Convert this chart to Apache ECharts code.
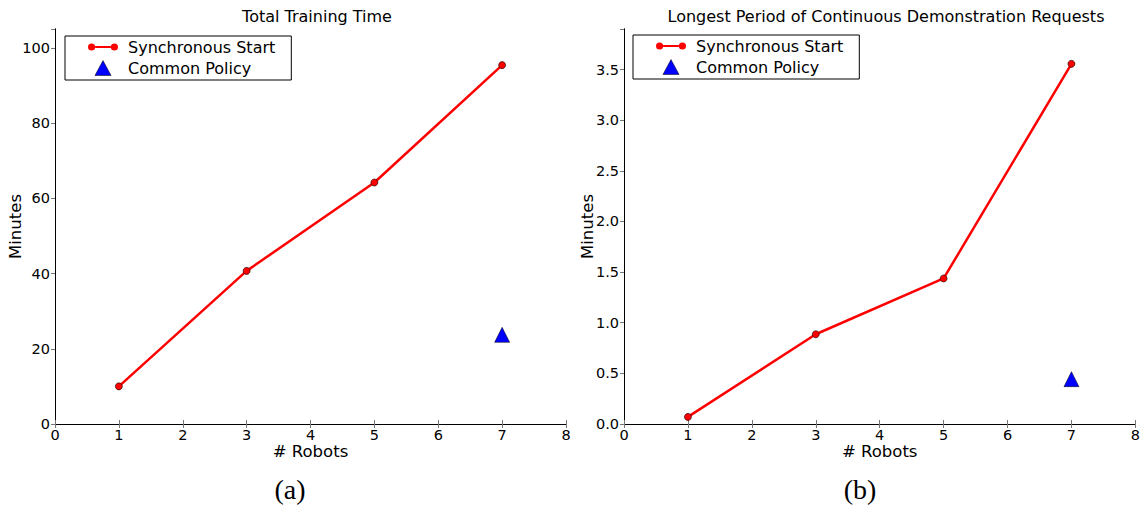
<!DOCTYPE html>
<html>
<head>
<meta charset="utf-8">
<script src="https://cdn.jsdelivr.net/npm/echarts@6/dist/echarts.min.js"></script>
<style>
  html, body { margin: 0; padding: 0; background: #fff; }
  #chart { width: 1143px; height: 506px; }
</style>
</head>
<body>
<div id="chart"></div>
<script>
// Number of robots used in each run
const robots = [1, 3, 5, 7];
// Total training time (minutes)
const trainingSync = [10.0, 40.7, 64.2, 95.4];
const trainingCommonRobots = [7];
const trainingCommon = [23.7];
// Longest period of continuous demonstration requests (minutes)
const requestsSync = [0.07, 0.886, 1.437, 3.556];
const requestsCommonRobots = [7];
const requestsCommon = [0.443];
// Axis tick settings
const xTicks = { min: 0, max: 8, interval: 1 };
const yTrainingTicks = { min: 0, max: 105, interval: 20 };
const yRequestsTicks = { min: 0, max: 3.9, interval: 0.5 };

const seriesNames = ['Synchronous Start', 'Common Policy'];
const titles = ['Total Training Time', 'Longest Period of Continuous Demonstration Requests'];

const FONT = 'DejaVu Sans';
const RED = '#ff0000';
const BLUE = '#0000ff';

const pairs = (xs, ys) => xs.map((x, i) => [x, ys[i]]);

const grids = [
  { left: 55, top: 29, width: 511, height: 395 },
  { left: 624, top: 29, width: 513, height: 395 }
];

const tickLabel = { color: '#000', fontFamily: FONT, fontSize: 14.5 };
const axisLine = { show: true, lineStyle: { color: '#000', width: 1 } };
const tickIn = { show: true, inside: true, length: 4, lineStyle: { color: '#777', width: 1 } };

function xAxes(gi) {
  return [
    {
      type: 'value', gridIndex: gi, position: 'bottom',
      min: xTicks.min, max: xTicks.max, interval: xTicks.interval,
      name: '# Robots', nameLocation: 'middle', nameGap: 19, nameMoveOverlap: false,
      nameTextStyle: { color: '#000', fontFamily: FONT, fontSize: 16.5 },
      axisLine, axisTick: tickIn, splitLine: { show: false },
      axisLabel: Object.assign({ margin: 3 }, tickLabel)
    },
    {
      type: 'value', gridIndex: gi, position: 'top',
      min: xTicks.min, max: xTicks.max, interval: xTicks.interval,
      axisLine, axisTick: tickIn, splitLine: { show: false },
      axisLabel: { show: false }
    }
  ];
}

function yAxes(gi, ticks, fmt, gap) {
  return [
    {
      type: 'value', gridIndex: gi, position: 'left',
      min: ticks.min, max: ticks.max, interval: ticks.interval,
      name: 'Minutes', nameLocation: 'middle', nameGap: gap, nameMoveOverlap: false,
      nameTextStyle: { color: '#000', fontFamily: FONT, fontSize: 16.5 },
      axisLine, axisTick: { show: true, inside: false, length: 4, lineStyle: { color: '#777' } },
      splitLine: { show: false },
      axisLabel: Object.assign({ margin: 5, showMaxLabel: false, formatter: fmt }, tickLabel)
    },
    {
      type: 'value', gridIndex: gi, position: 'right',
      min: ticks.min, max: ticks.max, interval: ticks.interval,
      axisLine, axisTick: tickIn, splitLine: { show: false },
      axisLabel: { show: false }
    }
  ];
}

// icons: a short line with a dot at each end, and an upright triangle
const lineDotsIcon = 'path://M0,4a3.6,3.6 0 1,0 7.2,0a3.6,3.6 0 1,0 -7.2,0z' +
  'M7.2,3.05h15.6v1.9h-15.6z' +
  'M22.8,4a3.6,3.6 0 1,0 7.2,0a3.6,3.6 0 1,0 -7.2,0z';
const triangleIcon = 'path://M7.5,0L15,14L0,14Z';

function legendAt(left, top) {
  return {
    orient: 'vertical', left, top,
    padding: [3, 16, 4, 23],
    itemWidth: 30, itemHeight: 15, itemGap: 5,
    symbolKeepAspect: true,
    borderColor: '#000', borderWidth: 1, borderRadius: 0,
    backgroundColor: '#fff',
    selectedMode: false,
    textStyle: { color: '#000', fontFamily: FONT, fontSize: 16, lineHeight: 16, padding: [0, 0, 0, 5] },
    data: [
      { name: seriesNames[0], icon: lineDotsIcon, itemStyle: { color: RED, borderWidth: 0 } },
      { name: seriesNames[1], icon: triangleIcon, itemStyle: { color: BLUE, borderColor: '#000', borderWidth: 0.5 } }
    ]
  };
}

function lineSeries(gi, data) {
  return {
    name: seriesNames[0], type: 'line', xAxisIndex: gi * 2, yAxisIndex: gi * 2,
    data, symbol: 'circle', symbolSize: 7, showAllSymbol: true,
    lineStyle: { color: RED, width: 2.5 },
    itemStyle: { color: RED, borderColor: '#000', borderWidth: 0.6 },
    z: 3, animation: false
  };
}

function triangleSeries(gi, data) {
  return {
    name: seriesNames[1], type: 'scatter', xAxisIndex: gi * 2, yAxisIndex: gi * 2,
    data, symbol: 'triangle', symbolSize: [15, 15],
    itemStyle: { color: BLUE, borderColor: '#000', borderWidth: 0.5, opacity: 1 },
    z: 3, animation: false
  };
}

const chart = echarts.init(document.getElementById('chart'), null, { renderer: 'svg' });

const titleStyle = { fontFamily: FONT, fontSize: 16, fontWeight: 'normal', color: '#000' };
const captionStyle = { fontFamily: 'Liberation Serif', fontSize: 28, fontWeight: 'normal', color: '#000' };

chart.setOption({
  animation: false,
  backgroundColor: '#fff',
  title: [
    { text: titles[0], left: 312, top: 3, textAlign: 'center', textStyle: titleStyle },
    { text: titles[1], left: 881, top: 3, textAlign: 'center', textStyle: titleStyle },
    { text: '(a)', left: 285, top: 470, textAlign: 'center', textStyle: captionStyle },
    { text: '(b)', left: 855, top: 470, textAlign: 'center', textStyle: captionStyle }
  ],
  grid: grids,
  legend: [legendAt(65, 36), legendAt(633, 35)],
  xAxis: [...xAxes(0), ...xAxes(1)],
  yAxis: [
    ...yAxes(0, yTrainingTicks, v => String(v), 31),
    ...yAxes(1, yRequestsTicks, v => v.toFixed(1), 28)
  ],
  series: [
    lineSeries(0, pairs(robots, trainingSync)),
    triangleSeries(0, pairs(trainingCommonRobots, trainingCommon)),
    lineSeries(1, pairs(robots, requestsSync)),
    triangleSeries(1, pairs(requestsCommonRobots, requestsCommon))
  ]
});
</script>
</body>
</html>
